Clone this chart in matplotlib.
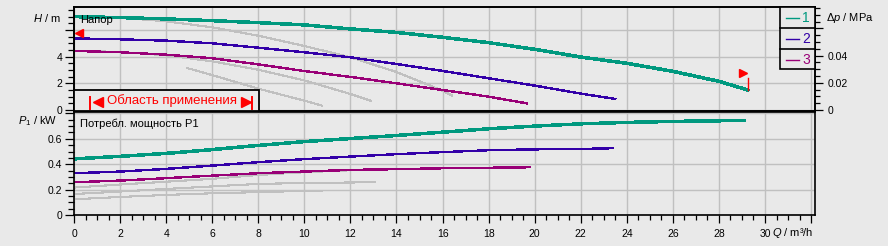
import matplotlib
matplotlib.use("Agg")
import matplotlib.pyplot as plt
from matplotlib.ticker import MultipleLocator, FixedLocator, FixedFormatter, FuncFormatter
from matplotlib.patches import Rectangle

#------ DATA

# Напор H (m) vs Q (m³/h)
q_h1 = [0, 2, 4, 6, 8, 10, 12, 14, 16, 18, 20, 22, 24, 26, 28, 29.25]
h_1 = [7.0, 6.93, 6.83, 6.7, 6.55, 6.38, 6.08, 5.82, 5.45, 5.05, 4.55, 3.97, 3.5, 2.9, 2.15, 1.5]
q_h2 = [0, 2, 4, 6, 8, 10, 12, 14, 16, 18, 20, 22, 23.5]
h_2 = [5.37, 5.3, 5.2, 5.0, 4.67, 4.33, 3.95, 3.45, 2.93, 2.38, 1.83, 1.23, 0.83]
q_h3 = [0, 2, 4, 6, 8, 10, 12, 14, 16, 18, 19.65]
h_3 = [4.43, 4.33, 4.15, 3.88, 3.42, 2.92, 2.48, 2.0, 1.5, 1.0, 0.5]

q_hg1 = [0, 2, 4, 6, 8, 10, 12, 14, 16, 16.4]
h_g1 = [7.0, 6.92, 6.65, 6.2, 5.57, 4.8, 3.95, 2.85, 1.45, 1.1]
q_hg2 = [0, 2, 4, 6, 8, 10, 12, 12.9]
h_g2 = [4.45, 4.35, 4.1, 3.65, 3.02, 2.22, 1.2, 0.68]
q_hg3 = [4.9, 6, 8, 9, 10, 10.75]
h_g3 = [3.15, 2.62, 1.6, 1.15, 0.7, 0.33]

# Потребл. мощность P1 (kW) vs Q
q_p1 = [0, 2, 4, 6, 8, 10, 12, 14, 16, 18, 20, 22, 24, 26, 28, 29.1]
p_1 = [0.442, 0.462, 0.485, 0.515, 0.548, 0.578, 0.602, 0.626, 0.652, 0.679, 0.7, 0.718, 0.729, 0.737, 0.742, 0.744]
q_p2 = [0, 2, 4, 6, 8, 10, 12, 14, 16, 18, 20, 22, 23.4]
p_2 = [0.329, 0.342, 0.363, 0.389, 0.416, 0.44, 0.46, 0.479, 0.495, 0.51, 0.517, 0.52, 0.526]
q_p3 = [0, 2, 4, 6, 8, 10, 12, 14, 16, 18, 19.8]
p_3 = [0.258, 0.271, 0.29, 0.31, 0.329, 0.342, 0.355, 0.361, 0.368, 0.372, 0.376]

q_pg1 = [0, 2, 4, 6, 8, 10, 12, 14, 16.4]
p_g1 = [0.216, 0.24, 0.262, 0.285, 0.315, 0.337, 0.352, 0.362, 0.37]
q_pg2 = [0, 2, 4, 6, 8, 10, 12, 13.05]
p_g2 = [0.165, 0.185, 0.205, 0.225, 0.245, 0.252, 0.256, 0.258]
q_pg3 = [0, 2, 4, 6, 8, 10, 10.75]
p_g3 = [0.124, 0.142, 0.158, 0.171, 0.18, 0.19, 0.192]

series_names = ["1", "2", "3"]

# Sollwert / Grenze der Kennlinie
setpoint_h = 5.8
end_q = 29.28
end_h = [1.5, 2.43]
flag_q, flag_h = 29.05, 2.78

#------ STYLE

BG = "#e9e9e9"
GRID = "#c0c0c0"
GREY = "#c0c0c0"
colors = ["#00997f", "#3300a8", "#990077"]
RED = "#ff0000"

plt.rcParams["font.family"] = ["Liberation Sans", "DejaVu Sans"]
plt.rcParams["mathtext.fontset"] = "custom"
plt.rcParams["mathtext.rm"] = "Liberation Sans"
plt.rcParams["mathtext.it"] = "Liberation Sans:italic"

W, H = 888, 246
MPA_PER_M = 0.00981


def box(x0, y0, x1, y1):
    # pixel box (top-left origin) -> figure fraction
    return [x0 / W, 1 - y1 / H, (x1 - x0) / W, (y1 - y0) / H]


def style(ax):
    ax.set_facecolor(BG)
    ax.set_axisbelow(True)
    for s in ax.spines.values():
        s.set_linewidth(1.2)
        s.set_color("black")
    ax.tick_params(which="major", length=6.5, width=0.9, direction="out", labelsize=7.5, pad=2)
    ax.tick_params(which="minor", length=4, width=0.9, direction="out")
    ax.grid(True, which="major", color=GRID, lw=1.0)


fig = plt.figure(figsize=(W / 100, H / 100), dpi=100, facecolor=BG)
ax_h = fig.add_axes(box(74, 7.3, 815, 110.8))
ax_p = fig.add_axes(box(74, 111.5, 815, 215))

for ax in (ax_h, ax_p):
    style(ax)
    ax.set_xlim(0, 32.17)
    ax.xaxis.set_major_locator(MultipleLocator(2))
    ax.xaxis.set_minor_locator(MultipleLocator(0.5))

# ---- top: Напор
ax_h.set_ylim(-0.06, 7.7)
ax_h.tick_params(axis="x", which="both", length=0, labelbottom=False)
ax_h.yaxis.set_major_locator(FixedLocator([0, 2, 4, 6]))
ax_h.yaxis.set_major_formatter(FixedFormatter(["0", "2", "4", ""]))
ax_h.yaxis.set_minor_locator(MultipleLocator(0.5))

for q, h in [(q_hg1, h_g1), (q_hg2, h_g2), (q_hg3, h_g3)]:
    ax_h.plot(q, h, color=GREY, lw=0.8, antialiased=False)
ax_h.plot(q_h3, h_3, color=colors[2], lw=1.0, antialiased=False)
ax_h.plot(q_h2, h_2, color=colors[1], lw=1.0, antialiased=False)
ax_h.plot(q_h1, h_1, color=colors[0], lw=1.8, antialiased=False)

ax_h.plot([0.22], [setpoint_h], marker="<", ms=6, color=RED, mec=RED, clip_on=False)
ax_h.plot([end_q, end_q], end_h, color=RED, lw=1.0)
ax_h.plot([flag_q], [flag_h], marker=">", ms=6, color=RED, mec=RED)

ax_r = ax_h.twinx()
ax_r.set_ylim(-0.06 * MPA_PER_M, 7.7 * MPA_PER_M)
for s in ax_r.spines.values():
    s.set_linewidth(1.2)
ax_r.yaxis.set_major_locator(FixedLocator([0, 0.02, 0.04, 0.06]))
ax_r.yaxis.set_major_formatter(FixedFormatter(["0", "0.02", "0.04", ""]))
ax_r.yaxis.set_minor_locator(MultipleLocator(0.005))
ax_r.tick_params(which="major", length=6, width=0.9, labelsize=7.5, pad=3)
ax_r.tick_params(which="minor", length=3.5, width=0.9)

# ---- bottom: Потребл. мощность
ax_p.set_ylim(0, 0.815)
ax_p.yaxis.set_major_locator(FixedLocator([0, 0.2, 0.4, 0.6, 0.8]))
ax_p.yaxis.set_major_formatter(FixedFormatter(["0", "0.2", "0.4", "0.6", ""]))
ax_p.yaxis.set_minor_locator(MultipleLocator(0.05))
ax_p.xaxis.set_major_formatter(FuncFormatter(lambda v, _: "" if v > 31 else f"{v:g}"))
ax_p.tick_params(axis="x", which="major", length=6, pad=4)
ax_p.tick_params(axis="x", which="minor", length=3.6)

for q, p in [(q_pg1, p_g1), (q_pg2, p_g2), (q_pg3, p_g3)]:
    ax_p.plot(q, p, color=GREY, lw=0.8, antialiased=False)
ax_p.plot(q_p3, p_3, color=colors[2], lw=1.0, antialiased=False)
ax_p.plot(q_p2, p_2, color=colors[1], lw=1.0, antialiased=False)
ax_p.plot(q_p1, p_1, color=colors[0], lw=1.8, antialiased=False)

# ---- overlay in pixel coordinates: labels, range box, legend
ov = fig.add_axes([0, 0, 1, 1], zorder=10)
ov.set_xlim(0, W)
ov.set_ylim(H, 0)
ov.axis("off")
ov.patch.set_alpha(0)

ov.text(61, 17.5, "$H$ / m", ha="right", va="center", fontsize=8)
ov.text(826, 18, r"$\Delta p$ / MPa", ha="left", va="center", fontsize=8)
ov.text(57, 121.5, "$P_1$ / kW", ha="right", va="center", fontsize=8)
ov.text(772, 233, "$Q$ / m³/h", ha="left", va="center", fontsize=8)
ov.text(80, 20, "Напор", ha="left", va="center", fontsize=8)
ov.text(80, 124, "Потребл. мощность P1", ha="left", va="center", fontsize=8)

# Область применения
ov.add_patch(Rectangle((74, 90), 185, 21, fc=BG, ec="black", lw=1.3))
ov.text(171.5, 101, "Область применения", ha="center", va="center",
        fontsize=9.5, color=RED)
for bx in (90, 252):
    ov.plot([bx, bx], [97, 108.5], color=RED, lw=1.4)
ov.plot([97.5], [102], marker="<", ms=6.5, color=RED, mec=RED)
ov.plot([245.5], [102], marker=">", ms=6.5, color=RED, mec=RED)

# legend
ov.add_patch(Rectangle((780, 7.3), 35, 62, fc=BG, ec="black", lw=1.2))
for yy in (28.3, 49.3):
    ov.plot([780, 815], [yy, yy], color="black", lw=1.2)
for i, name in enumerate(series_names):
    yc = 18 + i * 20.8
    ov.plot([786, 799], [yc, yc], color=colors[i], lw=1.0)
    ov.text(802, yc, name, ha="left", va="center", fontsize=10, color=colors[i])

fig.savefig("out.png", dpi=100, facecolor=BG)
